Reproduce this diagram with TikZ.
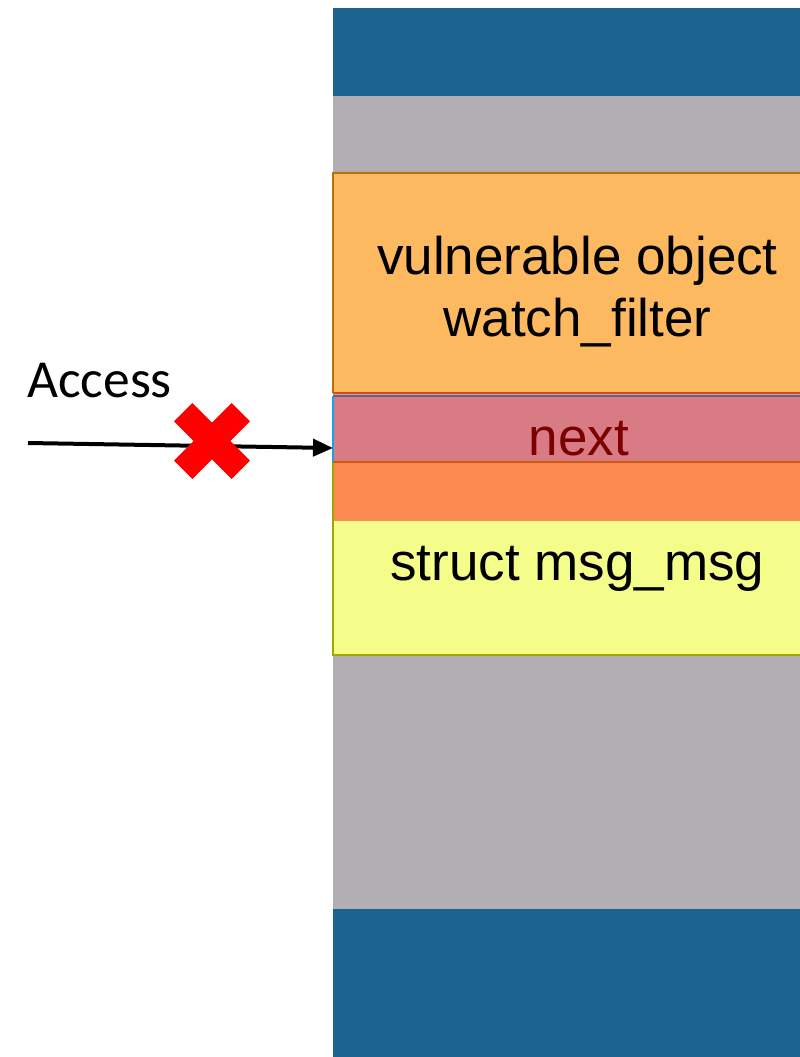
\documentclass[tikz,border=0pt]{standalone}
\usepackage{fontspec}
\setmainfont{Liberation Sans}
\newfontfamily\accessfont{Carlito}
\usetikzlibrary{arrows.meta}
\definecolor{memblue}{HTML}{1C648F}
\definecolor{memgray}{HTML}{B1AFB1}
\definecolor{vulnfill}{HTML}{FDB95F}
\definecolor{vulnedge}{HTML}{B8700A}
\definecolor{vulnbot}{HTML}{D84A10}
\definecolor{nextfill}{HTML}{D97B84}
\definecolor{nexttop}{HTML}{6E5A8A}
\definecolor{nextleft}{HTML}{1BA1E2}
\definecolor{nextbot}{HTML}{D05A10}
\definecolor{nexttext}{HTML}{7B0000}
\definecolor{stripfill}{HTML}{FA8A4F}
\definecolor{msgfill}{HTML}{F5FD8A}
\definecolor{msgedge}{HTML}{A0A800}
\definecolor{crossred}{HTML}{FF0000}
\tikzset{
  block/.style={anchor=north west, inner sep=0pt, outer sep=0pt, minimum width=488pt},
  label53/.style={font=\fontsize{53}{62}\selectfont, align=center, inner sep=0pt},
  accessarrow/.style={line width=4pt, -{Triangle[length=20pt,width=17pt]}},
  crossbar/.style={line width=26pt, line cap=butt, crossred},
}
\begin{document}
\begin{tikzpicture}[x=1pt,y=-1pt]
\useasboundingbox (0,0) rectangle (800,1057);
\clip (0,0) rectangle (800,1057);
% memory column
\node[block, fill=memgray, minimum height=813pt] (gray) at (333,96) {};
\node[block, fill=memblue, minimum height=88pt] (topblue) at (333,8) {};
\node[block, fill=memblue, minimum height=160pt] (botblue) at (333,909) {};
% vulnerable object
\node[block, fill=vulnfill, minimum height=220pt] (vuln) at (333,173) {};
\draw[vulnedge, line width=2pt] (vuln.south west) -- (vuln.north west) -- (vuln.north east);
\draw[vulnbot, line width=2pt] (vuln.south west) -- (vuln.south east);
% struct msg_msg
\node[block, fill=msgfill, minimum height=193pt] (msg) at (333,462) {};
\draw[msgedge, line width=2pt] (msg.north west) -- (msg.south west) -- (msg.south east);
\node[block, fill=stripfill, minimum height=59pt] (strip) at (334,462) {};
% next field
\node[block, fill=nextfill, minimum height=66pt] (next) at (333,396) {};
\draw[nexttop, line width=1.5pt] (next.north west) -- (next.north east);
\draw[nextleft, line width=1.5pt] (next.north west) -- (next.south west);
\draw[nextbot, line width=2pt] (next.south west) -- (next.south east);
% texts
\node[label53] (vulntext) at (577.5,292) {vulnerable object\\watch\_filter};
\node[label53, text=nexttext] (nexttxt) at (579,439) {next};
\node[label53] (msgtext) at (577.5,569) {struct msg\_msg};
\node[anchor=base west, inner sep=0pt, font=\accessfont\fontsize{53.5}{60}\selectfont] (access) at (27,397) {Access};
% access arrow
\coordinate (src) at (28,443);
\coordinate (tip) at (333,448);
\draw[accessarrow] (src) -- (tip);
% red cross
\coordinate (xc) at (212,441);
\draw[crossbar] ([shift={(-28.8,-28.8)}]xc) -- ([shift={(28.8,28.8)}]xc);
\draw[crossbar] ([shift={(28.8,-28.8)}]xc) -- ([shift={(-28.8,28.8)}]xc);
\end{tikzpicture}
\end{document}
